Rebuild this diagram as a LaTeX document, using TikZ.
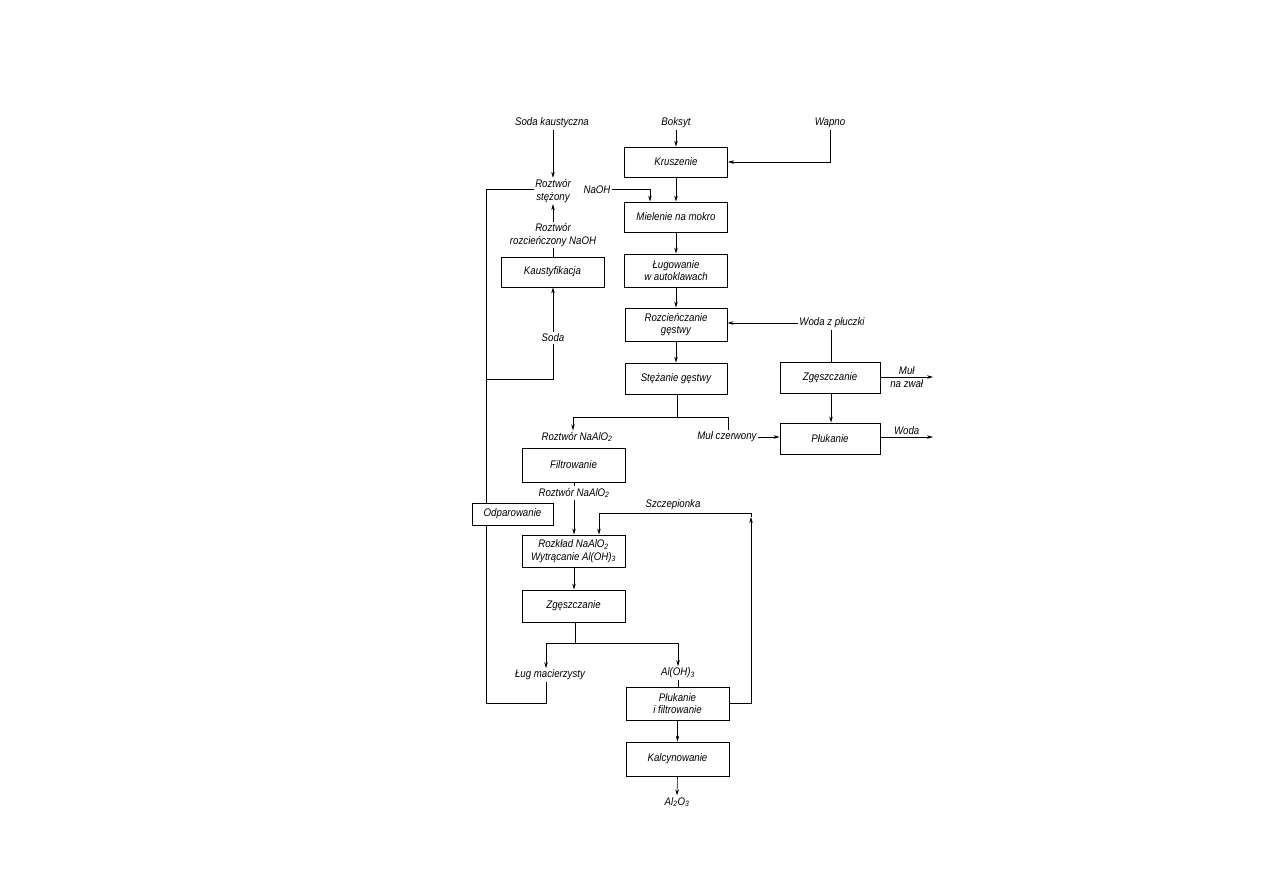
\documentclass[tikz,border=0pt]{standalone}
\usepackage{fontspec}
\setmainfont{Liberation Sans}[FakeStretch=0.88]
\usetikzlibrary{arrows.meta,calc}
\begin{document}
\begin{tikzpicture}[x=1pt,y=-1pt,
  every node/.style={font=\fontsize{11}{12.5}\selectfont\itshape},
  box/.style={draw,line width=0.9pt,minimum width=103pt,minimum height=32pt,inner sep=1pt,align=center},
  lbl/.style={inner sep=1.5pt,align=center},
  ln/.style={line width=0.6pt},
  arr/.style={line width=0.6pt,-{Stealth[length=6pt,width=3.5pt]}}]
\useasboundingbox (0,0) rectangle (1263,893);
% boxes
\node[box,minimum height=30pt] (kru) at (676,162) {Kruszenie};
\node[box,minimum height=30pt] (mie) at (676,217) {Mielenie na mokro};
\node[box,minimum height=33pt] (lug) at (676,270.5) {Ługowanie\\ w autoklawach};
\node[box,minimum width=102pt,minimum height=33pt] (roz) at (676,324.5) {Rozcieńczanie\\ gęstwy};
\node[box,minimum width=102pt,minimum height=31pt] (ste) at (676,378.5) {Stężanie gęstwy};
\node[box,minimum height=30pt] (kau) at (552.5,272) {Kaustyfikacja};
\node[box,minimum width=100pt,minimum height=31pt] (zg1) at (830,377.5) {Zgęszczanie};
\node[box,minimum width=100pt,minimum height=31pt] (plu) at (830,438.5) {Płukanie};
\node[box,minimum height=34pt] (fil) at (573.5,465) {Filtrowanie};
\node[box,minimum width=81pt,minimum height=22pt] (odp) at (512.5,514) {Odparowanie};
\node[box,minimum height=32pt] (rkl) at (573.5,551) {Rozkład NaAlO\textsubscript{2}\\ Wytrącanie Al(OH)\textsubscript{3}};
\node[box,minimum height=32pt] (zg2) at (573.5,606) {Zgęszczanie};
\node[box,minimum height=33pt] (pf) at (677.5,703.5) {Płukanie\\ i filtrowanie};
\node[box,minimum height=34pt] (kal) at (677.5,759) {Kalcynowanie};
% labels
\node[lbl] (sk) at (552,123) {Soda kaustyczna};
\node[lbl] (bok) at (676,123) {Boksyt};
\node[lbl] (wap) at (830,123) {Wapno};
\node[lbl] (rs) at (553,191) {Roztwór\\ stężony};
\node[lbl] (naoh) at (597,190) {NaOH};
\node[lbl] (rr) at (553,235) {Roztwór\\ rozcieńczony NaOH};
\node[lbl] (soda) at (553,338) {Soda};
\node[lbl] (wzp) at (832,323) {Woda z płuczki};
\node[lbl] (rna) at (577,437) {Roztwór NaAlO\textsubscript{2}};
\node[lbl] (mc) at (727,437) {Muł czerwony};
\node[lbl] (rna2) at (574,493) {Roztwór NaAlO\textsubscript{2}};
\node[lbl] (lm) at (550,675) {Ług macierzysty};
\node[lbl] (al) at (678,673) {Al(OH)\textsubscript{3}};
\node[lbl] (alo) at (677,802) {Al\textsubscript{2}O\textsubscript{3}};
% coordinates
\coordinate (tl) at (486,189);
\coordinate (bl) at (486,703);
\coordinate (sl) at (486,379);
\coordinate (j1) at (677,417);
\coordinate (j2) at (575,643);
\coordinate (mz) at (933,377);
\coordinate (wo) at (933,437);
\coordinate (sA) at (751,517);
\coordinate (sB) at (751,513);
\coordinate (sC) at (599,513);
\coordinate (mt) at (650,189);
% main chain
\draw[arr] (bok) -- (kru);
\draw[arr] (wap.south) |- (kru.east);
\draw[arr] (kru) -- (mie);
\draw[arr] (mie) -- (lug);
\draw[arr] (lug) -- (roz);
\draw[arr] (roz) -- (ste);
\draw[arr] (sk.south -| 553,0) -- (rs.north -| 553,0);
% caustic loop
\draw[arr] (rr.north -| 553,0) -- (rs.south -| 553,0);
\draw[ln] (kau.north -| 553,0) -- (rr.south -| 553,0);
\draw[arr] (soda.north -| 553,0) -- (kau.south -| 553,0);
\draw[ln] (soda.south -| 553,0) |- (sl);
\draw[ln] (tl) -- (tl -| rs.west);
\draw[arr] (naoh.east |- mt) -- (mt) -- (mt |- mie.north);
% water
\draw[arr] (wzp.west) -- (wzp.west -| roz.east);
\draw[ln] (wzp.south -| 831,0) -- (zg1.north -| 831,0);
\draw[arr] (zg1.south -| 831,0) -- (plu.north -| 831,0);
\draw[arr] (zg1.east |- mz) -- node[lbl,above=1pt]{Muł} node[lbl,below=1pt]{na zwał} (mz);
\draw[arr] (plu.east |- wo) -- node[lbl,above=1pt]{Woda} (wo);
% split after thickening
\draw[ln] (ste.south -| j1) -- (j1);
\draw[arr] (j1) -| (rna.north -| 573,0);
\draw[ln] (j1) -| (mc.north -| 728,0);
\draw[arr] (mc.east) -- (mc.east -| plu.west);
\draw[ln] (fil.south -| 574,0) -- (rna2.north -| 574,0);
\draw[arr] (rna2.south -| 574,0) -- (rkl.north -| 574,0);
% seed
\draw[arr] (pf.east) -| (sA);
\draw[arr] (sA) -- (sB) -- (sC) -- (sC |- rkl.north);
\node[lbl] (szc) at (673,505) {Szczepionka};
\draw[arr] (rkl.south -| 574,0) -- (zg2.north -| 574,0);
\draw[ln] (zg2.south -| j2) -- (j2);
\draw[arr] (j2) -| (lm.north -| 546,0);
\draw[arr] (j2) -| (al.north -| 678,0);
\draw[ln] (al.south -| 678,0) -- (pf.north -| 678,0);
\draw[arr] (pf) -- (kal);
\draw[arr] (kal.south) -- (alo.north);
% mother liquor loop
\draw[ln] (lm.south -| 546,0) |- (bl) -- (odp.south -| bl);
\draw[ln] (odp.north -| tl) -- (tl);
\end{tikzpicture}
\end{document}
